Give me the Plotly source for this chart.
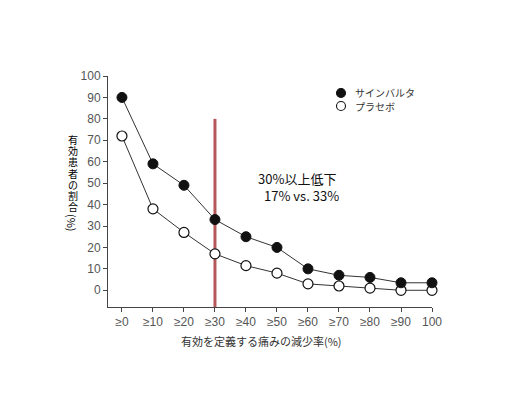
import plotly.graph_objects as go

categories = ["≥0", "≥10", "≥20", "≥30", "≥40", "≥50", "≥60", "≥70", "≥80", "≥90", "100"]
cymbalta = [90, 59, 49, 33, 25, 20, 10, 7, 6, 3.5, 3.5]
placebo = [72, 38, 27, 17, 11.5, 8, 3, 2, 1, 0, 0]
series_names = ["サインバルタ", "プラセボ"]
y_ticks = [0, 10, 20, 30, 40, 50, 60, 70, 80, 90, 100]
marker_cat = "≥30"
marker_top = 80
y_title_chars = ["有", "効", "患", "者", "の", "割", "合"]

OFF = 8  # page body margin
W, H = 522, 389
L, R, T, B = 100, 98, 68, 90
pw, ph = W - L - R, H - T - B

def px(x):
    return (x - OFF - L) / pw

def py(y):
    return (H - B - (y - OFF)) / ph

tick_font = dict(family="Liberation Sans, Arial, sans-serif", size=12, color="#555555")
jp = "Noto Sans CJK JP"

fig = go.Figure()
fig.add_trace(go.Scatter(
    x=categories, y=placebo, mode="lines+markers", name=series_names[1], showlegend=False,
    line=dict(color="#333333", width=1),
    marker=dict(symbol="circle", size=10, color="white", line=dict(color="#111111", width=1.2)),
    cliponaxis=False))
fig.add_trace(go.Scatter(
    x=categories, y=cymbalta, mode="lines+markers", name=series_names[0], showlegend=False,
    line=dict(color="#333333", width=1),
    marker=dict(symbol="circle", size=10, color="#111111", line=dict(color="#111111", width=1)),
    cliponaxis=False))

fig.add_shape(type="line", xref="x", yref="y", x0=marker_cat, x1=marker_cat,
              y0=-7.8, y1=marker_top, line=dict(color="#b5585a", width=3), layer="below")

# legend drawn as layout items (symbol + label)
legend_rows = [(series_names[0], "#111111", 93), (series_names[1], "white", 106)]
annotations = []
for name, fill, yc in legend_rows:
    fig.add_shape(type="circle", xref="paper", yref="paper",
                  x0=px(341 - 4.5), x1=px(341 + 4.5), y0=py(yc + 4.5), y1=py(yc - 4.5),
                  fillcolor=fill, line=dict(color="#111111", width=1.1))
    annotations.append(dict(text=name, xref="paper", yref="paper", x=px(353), y=py(yc),
                            showarrow=False, xanchor="left", yanchor="middle",
                            font=dict(family=jp, size=10, color="#333333")))

pitch = 11.2
top_char = 139.5
for i, ch in enumerate(y_title_chars):
    annotations.append(dict(text=ch, xref="paper", yref="paper", x=px(72.5), y=py(top_char + i * pitch),
                            showarrow=False, xanchor="center", yanchor="middle",
                            font=dict(family=jp, size=10, color="#000000")))
annotations.append(dict(text="(%)", xref="paper", yref="paper", x=px(72.5), y=py(222.5),
                        showarrow=False, xanchor="center", yanchor="middle", textangle=90,
                        font=dict(family=jp, size=11, color="#000000")))
annotations.append(dict(text="有効を定義する痛みの減少率(%)", xref="paper", yref="paper",
                        x=px(261), y=py(341), showarrow=False, xanchor="center", yanchor="middle",
                        font=dict(family=jp, size=11, color="#333333")))
annotations.append(dict(text="30%以上低下", xref="paper", yref="paper",
                        x=px(297), y=py(178), showarrow=False, xanchor="center", yanchor="middle",
                        font=dict(family=jp, size=13, color="#111111")))
annotations.append(dict(text="17% vs. 33%", xref="paper", yref="paper",
                        x=px(301.5), y=py(195), showarrow=False, xanchor="center", yanchor="middle",
                        font=dict(family=jp, size=13, color="#111111")))

fig.update_layout(
    width=W, height=H,
    margin=dict(l=L, r=R, t=T, b=B),
    paper_bgcolor="white", plot_bgcolor="white",
    showlegend=False,
    xaxis=dict(type="category", categoryorder="array", categoryarray=categories,
               range=[-0.45, len(categories) - 1], showline=True, linecolor="#444444", linewidth=1,
               ticks="outside", ticklen=4, tickcolor="#444444", showgrid=False, zeroline=False,
               tickfont=tick_font, fixedrange=True),
    yaxis=dict(range=[-7.8, 100], tickvals=y_ticks, showline=True, linecolor="#444444", linewidth=1,
               ticks="outside", ticklen=4, tickcolor="#444444", showgrid=False, zeroline=False,
               tickfont=tick_font, fixedrange=True),
    annotations=annotations,
)

fig.write_html("out.html")
